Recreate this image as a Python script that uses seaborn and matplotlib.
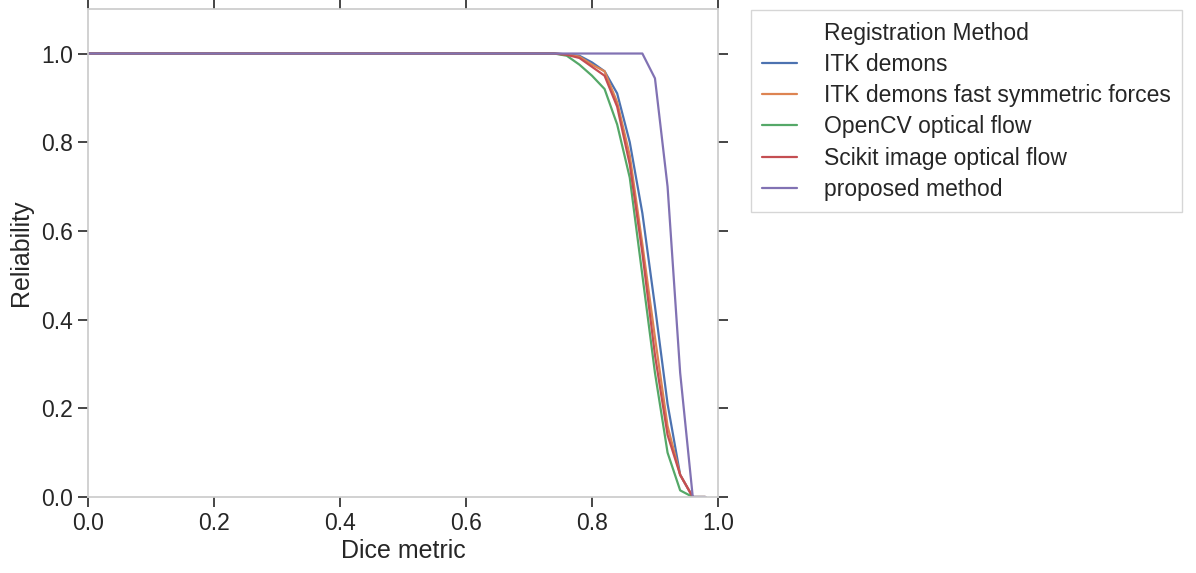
import pandas as pd
import matplotlib
matplotlib.use("Agg")
import matplotlib.pyplot as plt
from matplotlib.lines import Line2D
import seaborn as sns

# dice thresholds and reliability curves
dice = [0.0, 0.70, 0.72, 0.74, 0.76, 0.78, 0.80, 0.82, 0.84, 0.86, 0.88, 0.90, 0.92, 0.94, 0.96, 0.98]
itkDemons = [1, 1, 1, 1, 0.998, 0.995, 0.98, 0.96, 0.91, 0.80, 0.64, 0.43, 0.21, 0.05, 0.0, 0.0]
itkFastSym = [1, 1, 1, 1, 0.998, 0.993, 0.975, 0.96, 0.89, 0.77, 0.57, 0.36, 0.16, 0.05, 0.0, 0.0]
opencvFlow = [1, 1, 1, 1, 0.995, 0.975, 0.95, 0.92, 0.84, 0.72, 0.50, 0.28, 0.10, 0.015, 0.0, 0.0]
scikitFlow = [1, 1, 1, 1, 0.997, 0.99, 0.97, 0.95, 0.88, 0.75, 0.55, 0.32, 0.14, 0.05, 0.0, 0.0]
proposed = [1, 1, 1, 1, 1, 1, 1, 1, 1, 1, 1, 0.944, 0.70, 0.28, 0.0, 0.0]

methods = ['ITK demons', 'ITK demons fast symmetric forces', 'OpenCV optical flow',
           'Scikit image optical flow', 'proposed method']
series = [itkDemons, itkFastSym, opencvFlow, scikitFlow, proposed]

rows = []
for name, vals in zip(methods, series):
    for d, r in zip(dice, vals):
        rows.append({'Dice metric': d, 'Reliability': r, 'Registration Method': name})
df = pd.DataFrame(rows)

sns.set_theme(style="white", rc={
    'axes.edgecolor': '.8',
    'xtick.bottom': True, 'xtick.top': True,
    'ytick.left': True, 'ytick.right': True,
    'xtick.direction': 'out', 'ytick.direction': 'out',
    'xtick.major.size': 7, 'ytick.major.size': 7,
    'xtick.major.width': 1.2, 'ytick.major.width': 1.2,
    'xtick.color': '.15', 'ytick.color': '.15',
})
plt.rcParams['font.family'] = ['Liberation Sans', 'DejaVu Sans']

fig = plt.figure(figsize=(11.96, 5.73), dpi=100)
ax = fig.add_axes([0.0736, 0.1326, 0.5267, 0.8514])
sns.lineplot(data=df, x='Dice metric', y='Reliability', hue='Registration Method',
             palette='deep', linewidth=1.6, ax=ax)

ax.set_xlim(0, 1.0)
ax.set_ylim(0, 1.1)
ax.set_xticks([0.0, 0.2, 0.4, 0.6, 0.8, 1.0])
ax.set_yticks([0.0, 0.2, 0.4, 0.6, 0.8, 1.0])
ax.tick_params(labelsize=16.5, pad=4)
ax.set_xlabel('Dice metric', fontsize=18, labelpad=3)
ax.set_ylabel('Reliability', fontsize=18, labelpad=6)

handles, labels = ax.get_legend_handles_labels()
blank = Line2D([], [], color='none')
ax.legend([blank] + handles, ['Registration Method'] + labels,
          loc='upper left', bbox_to_anchor=(1.052, 0.998), borderaxespad=0,
          fontsize=16.5, frameon=True, fancybox=False, edgecolor='.8',
          borderpad=0.5, handlelength=1.5, handletextpad=1.2, labelspacing=0.36)

fig.savefig('out.png', dpi=100)
